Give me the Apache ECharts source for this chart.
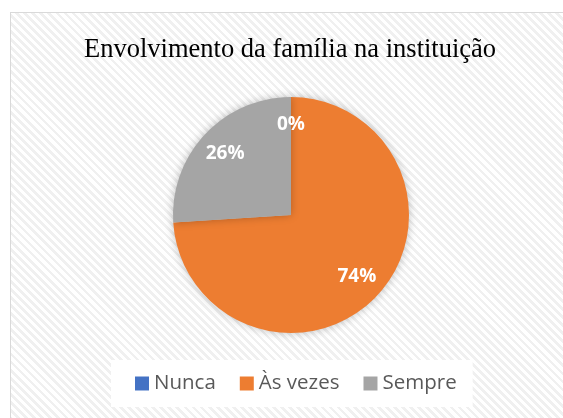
<!DOCTYPE html>
<html>
<head>
<meta charset="utf-8">
<script src="https://cdn.jsdelivr.net/npm/echarts@6/dist/echarts.min.js"></script>
<style>
  html, body { margin: 0; padding: 0; background: #fff; }
  #wrap { position: relative; width: 563px; height: 418px; overflow: hidden; }
  #frame {
    position: absolute; left: 10px; top: 12px; width: 600px; height: 460px;
    border-left: 1px solid #d9d9d9; border-top: 1px solid #d9d9d9;
    background: repeating-linear-gradient(45deg, #ffffff 0px, #ffffff 3px, #f0f0f0 3px, #f0f0f0 5.7px);
  }
  #chart { position: absolute; left: 0; top: 0; width: 563px; height: 418px; }
</style>
</head>
<body>
<div id="wrap">
  <div id="frame"></div>
  <div id="chart"></div>
</div>
<script>
  const titleText = 'Envolvimento da família na instituição';
  const categories = ['Nunca', 'Às vezes', 'Sempre'];
  const values = [0, 74, 26];
  const colors = ['#4472c4', '#ed7d31', '#a5a5a5'];

  const myChart = echarts.init(document.getElementById('chart'), null, { renderer: 'canvas' });

  const pieData = categories.map((name, i) => ({
    name: name,
    value: values[i],
    itemStyle: { color: colors[i] }
  }));

  const center = [291, 215];
  const radius = 118;

  const option = {
    backgroundColor: 'transparent',
    animation: false,
    title: {
      text: titleText,
      left: 79,
      top: 32,
      textStyle: {
        fontFamily: 'Liberation Serif',
        fontSize: 26.5,
        fontWeight: 'normal',
        color: '#000000'
      }
    },
    legend: {
      data: categories,
      left: 111,
      top: 360,
      orient: 'horizontal',
      icon: 'rect',
      itemWidth: 14,
      itemHeight: 14,
      itemGap: 24,
      padding: [13, 16, 13, 24],
      backgroundColor: '#ffffff',
      textStyle: {
        fontFamily: 'Open Sans',
        fontSize: 20.5,
        color: '#595959'
      }
    },
    series: [
      {
        // visible slices
        type: 'pie',
        center: center,
        radius: radius,
        startAngle: 90,
        clockwise: true,
        label: { show: false },
        labelLine: { show: false },
        emphasis: { disabled: true },
        itemStyle: {
          shadowBlur: 8,
          shadowColor: 'rgba(0,0,0,0.25)'
        },
        data: pieData
      },
      {
        // label ring, labels at ~3/4 of the radius
        type: 'pie',
        center: center,
        radius: [radius * 0.55, radius * 0.93],
        startAngle: 90,
        clockwise: true,
        silent: true,
        legendHoverLink: false,
        itemStyle: { color: 'transparent', borderWidth: 0 },
        label: {
          show: true,
          position: 'inside',
          formatter: (p) => p.value + '%',
          fontFamily: 'Open Sans',
          fontWeight: 'bold',
          fontSize: 19,
          color: '#ffffff'
        },
        labelLine: { show: false },
        data: categories.map((name, i) => ({ name: name, value: values[i] }))
      }
    ]
  };

  myChart.setOption(option);
</script>
</body>
</html>
